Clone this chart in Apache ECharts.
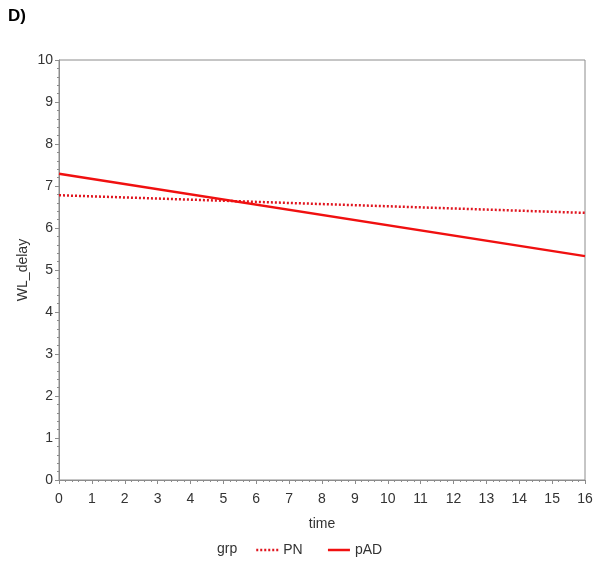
<!DOCTYPE html>
<html>
<head>
<meta charset="utf-8">
<script src="https://cdn.jsdelivr.net/npm/echarts@6/dist/echarts.min.js"></script>
<style>
  html, body { margin: 0; padding: 0; background: #fff; }
  #chart { width: 601px; height: 568px; }
</style>
</head>
<body>
<div id="chart"></div>
<script>
// fitted lines at time 0 and time 16
var time = [0, 16];
var pnValues = [6.78, 6.36];
var padValues = [7.29, 5.33];

var chart = echarts.init(document.getElementById('chart'));
var axisGray = '#8c8c8c';
var textGray = '#333';
var font = 'Liberation Sans, Arial, sans-serif';

chart.setOption({
  animation: false,
  textStyle: { fontFamily: font },
  grid: {
    left: 59, right: 16, top: 60, bottom: 88,
    show: true, borderColor: axisGray, borderWidth: 1
  },
  graphic: [
    { type: 'text', left: 8, top: 8,
      style: { text: 'D)', font: 'bold 17px ' + font, fill: '#000' } },
    { type: 'text', left: 217, top: 542,
      style: { text: 'grp', font: '14px ' + font, fill: textGray } }
  ],
  legend: {
    left: 250, top: 538,
    itemWidth: 22, itemHeight: 14, itemGap: 24,
    itemStyle: { opacity: 0 },
    lineStyle: { width: 2.5 },
    textStyle: { fontSize: 14, color: textGray, fontFamily: font },
    data: ['PN', 'pAD']
  },
  xAxis: {
    type: 'value', min: 0, max: 16, interval: 1,
    name: 'time', nameLocation: 'middle', nameGap: 37,
    nameTextStyle: { fontSize: 14, color: textGray },
    axisLine: { show: true, lineStyle: { color: axisGray } },
    axisTick: { show: true, length: 4, lineStyle: { color: axisGray } },
    minorTick: { show: true, splitNumber: 5, length: 2, lineStyle: { color: axisGray } },
    axisLabel: { fontSize: 14, color: textGray, margin: 12 },
    splitLine: { show: false }
  },
  yAxis: {
    type: 'value', min: 0, max: 10, interval: 1,
    name: 'WL_delay', nameLocation: 'middle', nameGap: 29,
    nameMoveOverlap: false,
    nameTextStyle: { fontSize: 14, color: textGray },
    axisLine: { show: true, lineStyle: { color: axisGray } },
    axisTick: { show: true, length: 4, lineStyle: { color: axisGray } },
    minorTick: { show: true, splitNumber: 5, length: 2, lineStyle: { color: axisGray } },
    axisLabel: { fontSize: 14, color: textGray, margin: 6 },
    splitLine: { show: false }
  },
  series: [
    {
      name: 'PN', type: 'line', symbol: 'none',
      data: time.map(function (t, i) { return [t, pnValues[i]]; }),
      lineStyle: { color: '#e0141e', width: 2.5, type: [2, 2] },
      itemStyle: { color: '#e0141e' }
    },
    {
      name: 'pAD', type: 'line', symbol: 'none',
      data: time.map(function (t, i) { return [t, padValues[i]]; }),
      lineStyle: { color: '#f01010', width: 2.5, type: 'solid' },
      itemStyle: { color: '#f01010' }
    }
  ]
});
</script>
</body>
</html>
